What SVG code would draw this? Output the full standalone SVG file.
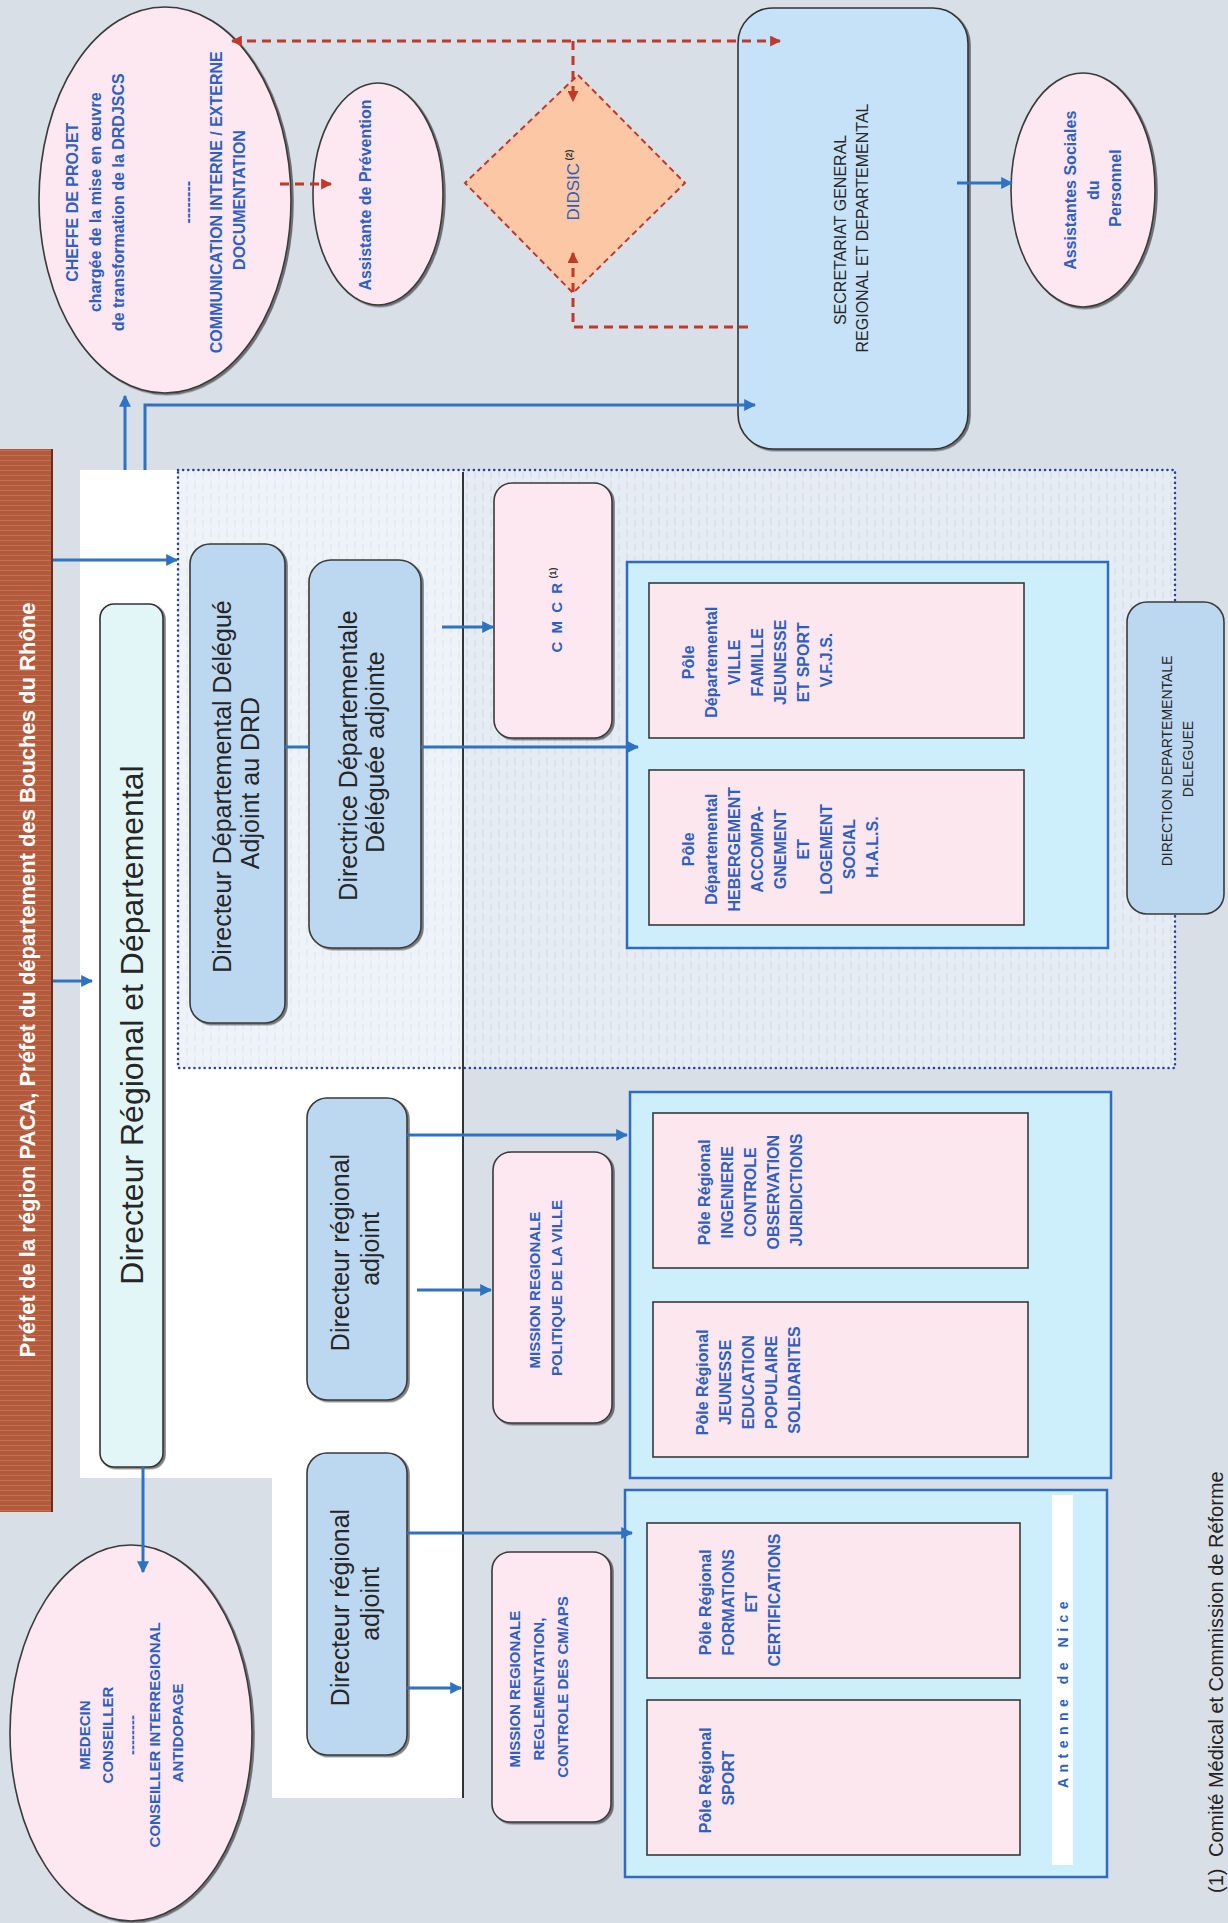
<svg xmlns="http://www.w3.org/2000/svg" width="1228" height="1923" viewBox="0 0 1228 1923">
<defs>
<style>
text{font-family:"Liberation Sans",Arial,sans-serif}
.bt{fill:#2f5fbf;font-weight:bold}
.dk{fill:#262626}
.pink{fill:#fde7f0;stroke:#3a3a3a;stroke-width:1.6}
.lblue{fill:#bcd8f1;stroke:#3a3a3a;stroke-width:1.6}
.cont{fill:#cdeefb;stroke:#2d6cc0;stroke-width:2.5}
.pole{fill:#fde7ef;stroke:#3a3a3a;stroke-width:1.6}
.cb{fill:none;stroke:#2e72c2;stroke-width:3}
.cr{fill:none;stroke:#c0392b;stroke-width:3;stroke-dasharray:9 6}
</style>
<filter id="sh" x="-10%" y="-10%" width="130%" height="130%"><feDropShadow dx="2" dy="1.5" stdDeviation="0.7" flood-color="#000" flood-opacity="0.5"/></filter>
<pattern id="tex" width="16" height="12" patternUnits="userSpaceOnUse"><rect width="16" height="12" fill="#e5ecf3"/><path d="M3 1v8M11 4v7" stroke="#d3dde8" stroke-width="1.2"/></pattern>
<pattern id="texl" width="16" height="12" patternUnits="userSpaceOnUse"><rect width="16" height="12" fill="#eef3f7"/><path d="M3 1v8M11 4v7" stroke="#dfe6ee" stroke-width="1.2"/></pattern>
<pattern id="brick" width="53" height="5" patternUnits="userSpaceOnUse"><rect width="53" height="5" fill="#b35a3c"/><path d="M0 0.5H53" stroke="#cc7f5e" stroke-width="1" opacity="0.6"/></pattern>
<marker id="ab" viewBox="0 0 10 10" refX="9" refY="5" markerWidth="12" markerHeight="12" markerUnits="userSpaceOnUse" orient="auto-start-reverse"><path d="M0,0L10,5L0,10z" fill="#2e72c2"/></marker>
<marker id="ar" viewBox="0 0 10 10" refX="9" refY="5" markerWidth="11" markerHeight="11" markerUnits="userSpaceOnUse" orient="auto-start-reverse"><path d="M0,0L10,5L0,10z" fill="#c0392b"/></marker>
</defs>

<rect x="0" y="0" width="1228" height="1923" fill="#d9dfe6"/>

<g id="panels">
<polygon points="80,470 463,470 463,1798 272,1798 272,1478 80,1478" fill="#ffffff"/>
<rect x="178" y="470" width="997" height="598" fill="url(#tex)"/>
<rect x="178" y="470" width="285" height="598" fill="url(#texl)"/>
<rect x="178" y="470" width="997" height="598" fill="none" stroke="#2b3fa0" stroke-width="2.5" stroke-dasharray="0.1 5" stroke-linecap="round"/>
<line x1="463" y1="472" x2="463" y2="1798" stroke="#333" stroke-width="2"/>
</g>

<g id="prefet">
<rect x="0" y="449" width="53" height="1063" fill="url(#brick)"/>
<line x1="52" y1="449" x2="52" y2="1512" stroke="#6b2d1c" stroke-width="2"/>
<text transform="translate(27 980) rotate(-90)" text-anchor="middle" font-size="22" font-weight="bold" fill="#ffffff" y="8">Préfet de la région PACA, Préfet du département des Bouches du Rhône</text>
</g>

<g id="cheffe">
<ellipse cx="165" cy="200" rx="126" ry="193" class="pink" filter="url(#sh)"/>
<text class="bt" font-size="16" text-anchor="middle" transform="translate(165 200) rotate(-90)">
<tspan x="0" y="-87">CHEFFE DE PROJET</tspan>
<tspan x="0" y="-64">chargée de la mise en œuvre</tspan>
<tspan x="0" y="-41">de  transformation de la DRDJSCS</tspan>
<tspan x="0" y="28">--------</tspan>
<tspan x="0" y="57">COMMUNICATION INTERNE / EXTERNE</tspan>
<tspan x="0" y="80">DOCUMENTATION</tspan>
</text>
</g>

<g id="assistante-prevention">
<ellipse cx="378" cy="194" rx="65" ry="111" class="pink" filter="url(#sh)"/>
<text class="bt" font-size="16" text-anchor="middle" transform="translate(365 195) rotate(-90)" y="6">Assistante de Prévention</text>
</g>

<g id="didsic">
<polygon points="578,75 685,183 573,293 465,183" fill="#fbc7a4" stroke="#c0392b" stroke-width="2" stroke-dasharray="6 4"/>
<text text-anchor="middle" transform="translate(573 185) rotate(-90)"><tspan font-size="17" fill="#2f5fbf" y="6">DIDSIC</tspan><tspan font-size="9" font-weight="bold" fill="#333" dy="-7"> (2)</tspan></text>
</g>

<g id="secretariat">
<rect x="738" y="8" width="230" height="441" rx="35" fill="#c6e2f9" stroke="#333" stroke-width="1.6" filter="url(#sh)"/>
<text class="dk" font-size="16" text-anchor="middle" transform="translate(851 228) rotate(-90)">
<tspan x="0" y="-5">SECRETARIAT GENERAL</tspan>
<tspan x="0" y="17">REGIONAL ET DEPARTEMENTAL</tspan>
</text>
</g>

<g id="assistantes-sociales">
<ellipse cx="1083" cy="190" rx="72" ry="117" class="pink" filter="url(#sh)"/>
<text class="bt" font-size="16" text-anchor="middle" transform="translate(1093 188) rotate(-90)">
<tspan x="0" y="-17">Assistantes Sociales</tspan>
<tspan x="0" y="6">du</tspan>
<tspan x="0" y="28">Personnel</tspan>
</text>
</g>

<g id="drd">
<rect x="100" y="604" width="63" height="863" rx="14" fill="#e2f6f8" stroke="#333" stroke-width="1.6" filter="url(#sh)"/>
<text class="dk" font-size="32" text-anchor="middle" transform="translate(132 1025) rotate(-90)" y="11">Directeur Régional et Départemental</text>
</g>

<g id="ddda">
<rect x="190" y="544" width="95" height="479" rx="20" class="lblue" filter="url(#sh)"/>
<text class="dk" font-size="25" text-anchor="middle" transform="translate(236 783) rotate(-90)">
<tspan x="0" y="-5">Directeur Départemental Délégué</tspan>
<tspan x="0" y="23">Adjoint au DRD</tspan>
</text>
</g>

<g id="directrice">
<rect x="309" y="560" width="112" height="388" rx="22" class="lblue" filter="url(#sh)"/>
<text class="dk" font-size="25" text-anchor="middle" transform="translate(362 752) rotate(-90)">
<tspan x="0" y="-5">Directrice Départementale</tspan>
<tspan x="0" y="22">Déléguée adjointe</tspan>
</text>
</g>

<g id="cmcr">
<rect x="494" y="483" width="118" height="255" rx="18" class="pink" filter="url(#sh)"/>
<text text-anchor="middle" transform="translate(557 610) rotate(-90)"><tspan class="bt" font-size="15" letter-spacing="2" y="5">C M C R</tspan><tspan font-size="9" font-weight="bold" fill="#333" dy="-6"> (1)</tspan></text>
</g>

<g id="poles-departementaux">
<rect x="627" y="562" width="481" height="386" class="cont"/>
<g id="pole-vfjs">
<rect x="649" y="583" width="375" height="155" class="pole"/>
<text class="bt" font-size="16" text-anchor="middle" transform="translate(688 660) rotate(-90)">
<tspan x="0" y="6">Pôle</tspan>
<tspan x="0" y="29">Départemental</tspan>
<tspan x="0" y="52">VILLE</tspan>
<tspan x="0" y="75">FAMILLE</tspan>
<tspan x="0" y="98">JEUNESSE</tspan>
<tspan x="0" y="121">ET SPORT</tspan>
<tspan x="0" y="144">V.F.J.S.</tspan>
</text>
</g>
<g id="pole-hals">
<rect x="649" y="770" width="375" height="155" class="pole"/>
<text class="bt" font-size="16" text-anchor="middle" transform="translate(688 847) rotate(-90)">
<tspan x="0" y="6">Pôle</tspan>
<tspan x="0" y="29">Départemental</tspan>
<tspan x="0" y="52">HEBERGEMENT</tspan>
<tspan x="0" y="75">ACCOMPA-</tspan>
<tspan x="0" y="98">GNEMENT</tspan>
<tspan x="0" y="121">ET</tspan>
<tspan x="0" y="144">LOGEMENT</tspan>
<tspan x="0" y="167">SOCIAL</tspan>
<tspan x="0" y="190">H.A.L.S.</tspan>
</text>
</g>
</g>

<g id="direction-departementale-deleguee">
<rect x="1127" y="602" width="97" height="312" rx="20" class="lblue"/>
<text class="dk" font-size="14" text-anchor="middle" transform="translate(1177 759) rotate(-90)">
<tspan x="0" y="-5">DIRECTION DEPARTEMENTALE</tspan>
<tspan x="0" y="16">DELEGUEE</tspan>
</text>
</g>

<g id="dra1">
<rect x="307" y="1098" width="100" height="302" rx="20" class="lblue" filter="url(#sh)"/>
<text class="dk" font-size="25" text-anchor="middle" transform="translate(355 1249) rotate(-90)">
<tspan x="0" y="-6">Directeur régional</tspan>
<tspan x="0" y="24">adjoint</tspan>
</text>
</g>

<g id="dra2">
<rect x="307" y="1453" width="100" height="302" rx="20" class="lblue" filter="url(#sh)"/>
<text class="dk" font-size="25" text-anchor="middle" transform="translate(355 1604) rotate(-90)">
<tspan x="0" y="-6">Directeur régional</tspan>
<tspan x="0" y="24">adjoint</tspan>
</text>
</g>

<g id="mission-politique-ville">
<rect x="493" y="1152" width="119" height="271" rx="18" class="pink" filter="url(#sh)"/>
<text class="bt" font-size="15" text-anchor="middle" transform="translate(546 1288) rotate(-90)">
<tspan x="0" y="-6">MISSION REGIONALE</tspan>
<tspan x="0" y="16">POLITIQUE DE LA VILLE</tspan>
</text>
</g>

<g id="mission-reglementation">
<rect x="492" y="1552" width="119" height="270" rx="18" class="pink" filter="url(#sh)"/>
<text class="bt" font-size="15" text-anchor="middle" transform="translate(539 1687) rotate(-90)">
<tspan x="0" y="-19">MISSION REGIONALE</tspan>
<tspan x="0" y="5">REGLEMENTATION,</tspan>
<tspan x="0" y="29">CONTROLE DES CM/APS</tspan>
</text>
</g>

<g id="poles-regionaux-1">
<rect x="630" y="1092" width="481" height="386" class="cont"/>
<g id="pole-ingenierie">
<rect x="653" y="1113" width="375" height="155" class="pole"/>
<text class="bt" font-size="16" text-anchor="middle" transform="translate(704 1190) rotate(-90)">
<tspan x="0" y="6">Pôle Régional</tspan>
<tspan x="0" y="29">INGENIERIE</tspan>
<tspan x="0" y="52">CONTROLE</tspan>
<tspan x="0" y="75">OBSERVATION</tspan>
<tspan x="0" y="98">JURIDICTIONS</tspan>
</text>
</g>
<g id="pole-jeunesse">
<rect x="653" y="1302" width="375" height="155" class="pole"/>
<text class="bt" font-size="16" text-anchor="middle" transform="translate(702 1380) rotate(-90)">
<tspan x="0" y="6">Pôle Régional</tspan>
<tspan x="0" y="29">JEUNESSE</tspan>
<tspan x="0" y="52">EDUCATION</tspan>
<tspan x="0" y="75">POPULAIRE</tspan>
<tspan x="0" y="98">SOLIDARITES</tspan>
</text>
</g>
</g>

<g id="poles-regionaux-2">
<rect x="625" y="1490" width="482" height="387" class="cont"/>
<g id="pole-formations">
<rect x="647" y="1523" width="373" height="155" class="pole"/>
<text class="bt" font-size="16" text-anchor="middle" transform="translate(705 1600) rotate(-90)">
<tspan x="0" y="6">Pôle Régional</tspan>
<tspan x="0" y="29">FORMATIONS</tspan>
<tspan x="0" y="52">ET</tspan>
<tspan x="0" y="75">CERTIFICATIONS</tspan>
</text>
</g>
<g id="pole-sport">
<rect x="647" y="1700" width="373" height="155" class="pole"/>
<text class="bt" font-size="16" text-anchor="middle" transform="translate(705 1778) rotate(-90)">
<tspan x="0" y="6">Pôle Régional</tspan>
<tspan x="0" y="29">SPORT</tspan>
</text>
</g>
<g id="antenne-nice">
<rect x="1052" y="1495" width="21" height="370" fill="#ffffff"/>
<text class="bt" font-size="14" letter-spacing="5.5" text-anchor="middle" transform="translate(1063 1692) rotate(-90)" y="5">Antenne de Nice</text>
</g>
</g>

<g id="medecin">
<ellipse cx="131" cy="1733" rx="121" ry="188" class="pink" filter="url(#sh)"/>
<text class="bt" font-size="15" text-anchor="middle" transform="translate(131 1733) rotate(-90)">
<tspan x="0" y="-41">MEDECIN</tspan>
<tspan x="0" y="-18">CONSEILLER</tspan>
<tspan x="0" y="6">--------</tspan>
<tspan x="0" y="29">CONSEILLER INTERREGIONAL</tspan>
<tspan x="0" y="52">ANTIDOPAGE</tspan>
</text>
</g>

<g id="footnote">
<text font-size="20" fill="#222" transform="translate(1223 1893) rotate(-90)"><tspan x="0" y="0">(1)</tspan><tspan x="36" y="0">Comité Médical et Commission de Réforme</tspan></text>
</g>

<g id="connectors">
<path class="cb" d="M125,470 V396" marker-end="url(#ab)"/>
<path class="cb" d="M145,470 V405 H755" marker-end="url(#ab)"/>
<path class="cb" d="M957,183 H1012" marker-end="url(#ab)"/>
<path class="cb" d="M53,560 H177" marker-end="url(#ab)"/>
<path class="cb" d="M53,981 H92" marker-end="url(#ab)"/>
<path class="cb" d="M285,747 H309"/>
<path class="cb" d="M421,747 H638" marker-end="url(#ab)"/>
<path class="cb" d="M442,627 H493" marker-end="url(#ab)"/>
<path class="cb" d="M143,1467 V1572" marker-end="url(#ab)"/>
<path class="cb" d="M407,1135 H627" marker-end="url(#ab)"/>
<path class="cb" d="M417,1290 H491" marker-end="url(#ab)"/>
<path class="cb" d="M407,1533 H632" marker-end="url(#ab)"/>
<path class="cb" d="M407,1688 H461" marker-end="url(#ab)"/>
<path class="cr" d="M232,41 H780" marker-start="url(#ar)" marker-end="url(#ar)"/>
<path class="cr" d="M280,184 H331" marker-end="url(#ar)"/>
<path class="cr" d="M573,41 V101" marker-end="url(#ar)"/>
<path class="cr" d="M748,327 H573 V253" marker-end="url(#ar)"/>
</g>
</svg>
